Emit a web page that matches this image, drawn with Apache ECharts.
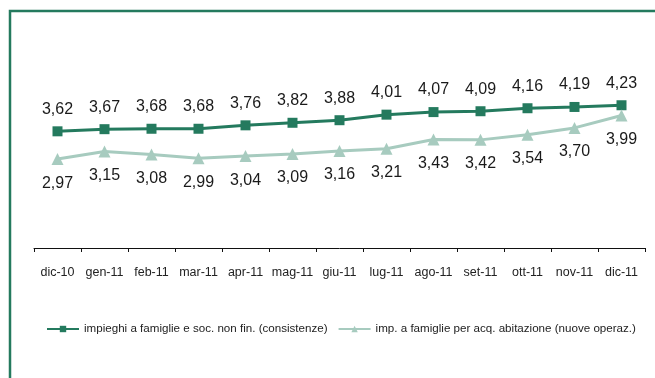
<!DOCTYPE html>
<html>
<head>
<meta charset="utf-8">
<script src="https://cdn.jsdelivr.net/npm/echarts@6/dist/echarts.min.js"></script>
<style>
  html, body { margin: 0; padding: 0; background: #ffffff; }
  #chart { width: 655px; height: 378px; }
</style>
</head>
<body>
<div id="chart"></div>
<script>
// Monthly categories
const months = ['dic-10', 'gen-11', 'feb-11', 'mar-11', 'apr-11', 'mag-11', 'giu-11',
                'lug-11', 'ago-11', 'set-11', 'ott-11', 'nov-11', 'dic-11'];

// Loans to households and non-financial firms (outstanding amounts)
const stockRates = [3.62, 3.67, 3.68, 3.68, 3.76, 3.82, 3.88, 4.01, 4.07, 4.09, 4.16, 4.19, 4.23];

// Loans to households for house purchase (new business)
const newRates = [2.97, 3.15, 3.08, 2.99, 3.04, 3.09, 3.16, 3.21, 3.43, 3.42, 3.54, 3.70, 3.99];

const seriesNames = [
  'impieghi a famiglie e soc. non fin. (consistenze)',
  'imp. a famiglie per acq. abitazione (nuove operaz.)'
];

const darkGreen = '#247a5e';
const lightGreen = '#a7cbbf';
const fmt = p => p.value.toFixed(2).replace('.', ',');
const labelFont = '"Liberation Sans", Arial, sans-serif';

const chart = echarts.init(document.getElementById('chart'), null, { renderer: 'canvas' });

chart.setOption({
  animation: false,
  backgroundColor: '#ffffff',
  graphic: [{
    type: 'rect',
    shape: { x: 10, y: 11, width: 700, height: 420 },
    style: { fill: 'none', stroke: darkGreen, lineWidth: 2.5 },
    silent: true
  }],
  grid: { left: 34, right: 10, top: 92, bottom: 130, containLabel: false },
  legend: {
    left: 41,
    top: 318,
    width: 640,
    orient: 'horizontal',
    itemWidth: 32,
    itemHeight: 8,
    itemGap: 10,
    textStyle: { fontFamily: labelFont, fontSize: 11.6, color: '#222222' },
    data: seriesNames
  },
  xAxis: {
    type: 'category',
    data: months,
    boundaryGap: true,
    axisLine: { lineStyle: { color: '#111111', width: 1 } },
    axisTick: { show: true, length: 4, interval: 0, lineStyle: { color: '#111111' } },
    axisLabel: { interval: 0, margin: 18, fontFamily: labelFont, fontSize: 12.5, color: '#222222' },
    splitLine: { show: false }
  },
  yAxis: {
    type: 'value',
    min: 0.89,
    max: 4.54,
    show: false,
    splitLine: { show: false }
  },
  series: [
    {
      name: seriesNames[0],
      type: 'line',
      data: stockRates,
      symbol: 'rect',
      symbolSize: 10,
      itemStyle: { color: darkGreen },
      lineStyle: { color: darkGreen, width: 3 },
      label: {
        show: true, position: 'top', distance: 9, formatter: fmt,
        fontFamily: labelFont, fontSize: 16, color: '#1a1a1a'
      }
    },
    {
      name: seriesNames[1],
      type: 'line',
      data: newRates,
      symbol: 'triangle',
      symbolSize: 12,
      itemStyle: { color: lightGreen },
      lineStyle: { color: lightGreen, width: 3 },
      label: {
        show: true, position: 'bottom', distance: 10, formatter: fmt,
        fontFamily: labelFont, fontSize: 16, color: '#1a1a1a'
      }
    }
  ]
});
</script>
</body>
</html>
